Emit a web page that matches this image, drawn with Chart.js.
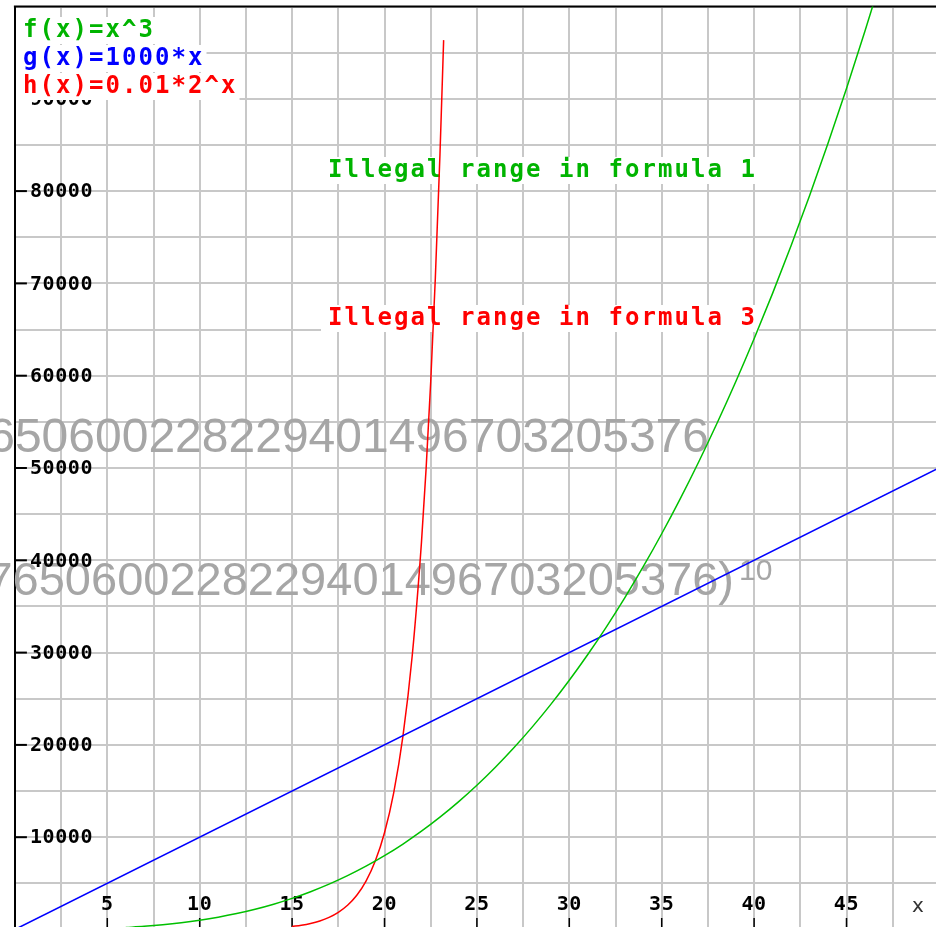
<!DOCTYPE html>
<html>
<head>
<meta charset="utf-8" />
<title>functions</title>
<script src="https://cdn.jsdelivr.net/npm/chart.js"></script>
<style>
  html, body { margin: 0; padding: 0; overflow: hidden; background: #fff; }
  #wrap { width: 936px; height: 927px; overflow: hidden; position: relative; }
  #plot { position: absolute; left: 0; top: 0; }
</style>
</head>
<body>
<div id="wrap"><canvas id="plot" width="950" height="940" style="width:950px;height:940px"></canvas></div>
<script>
// f(x) = x^3
const cubeX = [6, 7, 8, 9, 10, 11, 12, 13, 14, 15, 16, 17, 18, 19, 20, 21, 22, 23, 24, 25, 26,
  27, 28, 29, 30, 31, 32, 33, 34, 35, 36, 37, 38, 39, 40, 41, 42, 43, 44, 45, 46, 47];
const cubeY = [216, 343, 512, 729, 1000, 1331, 1728, 2197, 2744, 3375, 4096, 4913, 5832, 6859,
  8000, 9261, 10648, 12167, 13824, 15625, 17576, 19683, 21952, 24389, 27000, 29791, 32768,
  35937, 39304, 42875, 46656, 50653, 54872, 59319, 64000, 68921, 74088, 79507, 85184, 91125,
  97336, 103823];
// g(x) = 1000*x, blue line
const linX = [0, 50];
const linY = [0, 50000];
// h(x) = 0.01*2^x, red curve (stops near x = 23.2)
const expX = [15, 15.5, 16, 16.5, 17, 17.5, 18, 18.5, 19, 19.5, 20, 20.5, 21, 21.5, 22, 22.25,
  22.5, 22.75, 23, 23.2];
const expY = [328, 463, 655, 927, 1311, 1854, 2621, 3707, 5243, 7415, 10486, 14830, 20972,
  29660, 41943, 49880, 59317, 70543, 83886, 96359];

const xTicks = [5, 10, 15, 20, 25, 30, 35, 40, 45];
const yTicks = [10000, 20000, 30000, 40000, 50000, 60000, 70000, 80000, 90000];
const legendText = ['f(x)=x^3', 'g(x)=1000*x', 'h(x)=0.01*2^x'];
const legendColor = ['#00b400', '#0000ff', '#ff0000'];
const notes = ['Illegal range in formula 1', 'Illegal range in formula 3'];
const bigNumber = '7650600228229401496703205376';

function pts(xs, ys) {
  return xs.map((x, i) => ({ x: x, y: ys[i] }));
}

const MONO = 'bold 24px "DejaVu Sans Mono"';
const CHAR_W = 16.5;

function boxText(ctx, txt, x, base, color) {
  ctx.fillStyle = '#fff';
  ctx.fillRect(x - 7, base - 20, txt.length * CHAR_W + 9, 27);
  ctx.font = MONO;
  ctx.letterSpacing = (CHAR_W - 14.45) + 'px';
  ctx.textAlign = 'left';
  ctx.textBaseline = 'alphabetic';
  ctx.fillStyle = color;
  ctx.fillText(txt, x, base);
  ctx.letterSpacing = '0px';
}

const decor = {
  id: 'decor',
  beforeDatasetsDraw(chart) {
    const ctx = chart.ctx;
    const xs = chart.scales.x;
    const ys = chart.scales.y;
    const a = chart.chartArea;
    ctx.save();

    // the big grey overflowing numbers
    ctx.fillStyle = '#a6a6a6';
    ctx.textAlign = 'right';
    ctx.textBaseline = 'alphabetic';
    ctx.font = '48px "Liberation Sans"';
    ctx.fillText(bigNumber, 709, 452);
    ctx.font = '47px "Liberation Sans"';
    ctx.fillText(bigNumber + ')', 734, 595);
    ctx.font = '30px "Liberation Sans"';
    ctx.textAlign = 'left';
    ctx.fillText('10', 739, 580);

    // top frame line
    ctx.fillStyle = '#000';
    ctx.fillRect(a.left - 1, a.top - 1, a.right - a.left + 2, 2);

    // y tick labels inside the plot
    ctx.font = 'bold 20px "DejaVu Sans Mono"';
    ctx.letterSpacing = '0.6px';
    ctx.textBaseline = 'middle';
    ctx.textAlign = 'left';
    yTicks.forEach(v => {
      const py = ys.getPixelForValue(v);
      ctx.fillRect(a.left, py - 1, 12, 2);
      ctx.fillText(String(v), a.left + 15, py + 1);
    });

    // x tick labels and marks
    ctx.textAlign = 'center';
    xTicks.forEach(v => {
      const px = xs.getPixelForValue(v);
      ctx.fillText(String(v), px, 905);
      ctx.fillRect(px - 0.75, 918, 1.5, a.bottom - 918);
    });
    ctx.letterSpacing = '0px';
    ctx.font = '20px "DejaVu Sans"';
    ctx.fillStyle = '#333';
    ctx.fillText('x', 918, 907);

    // legend and notes on white boxes
    legendText.forEach((t, i) => boxText(ctx, t, 23, 37 + i * 28, legendColor[i]));
    boxText(ctx, notes[0], 328, 177, '#00b400');
    boxText(ctx, notes[1], 328, 325, '#ff0000');

    ctx.restore();
  }
};

const gridStyle = { color: '#c8c8c8', lineWidth: 2, drawTicks: false };

new Chart(document.getElementById('plot'), {
  type: 'line',
  data: {
    datasets: [
      { label: legendText[0], data: pts(cubeX, cubeY), borderColor: '#00c000', borderWidth: 1.5,
        pointRadius: 0, cubicInterpolationMode: 'monotone' },
      { label: legendText[1], data: pts(linX, linY), borderColor: '#0000ff', borderWidth: 1.5,
        pointRadius: 0 },
      { label: legendText[2], data: pts(expX, expY), borderColor: '#ff0000', borderWidth: 1.5,
        pointRadius: 0, cubicInterpolationMode: 'monotone' }
    ]
  },
  options: {
    responsive: false,
    animation: false,
    layout: { padding: { left: 14.9, top: 6.5, right: 11.1, bottom: 10.5 } },
    plugins: { legend: { display: false }, tooltip: { enabled: false } },
    scales: {
      x: {
        type: 'linear', min: 0, max: 50,
        ticks: { display: false, stepSize: 2.5 },
        grid: gridStyle,
        border: { display: false },
        afterFit: s => { s.height = 0; }
      },
      y: {
        type: 'linear', min: 0, max: 100000,
        ticks: { display: false, stepSize: 5000 },
        grid: gridStyle,
        border: { color: '#000', width: 2 },
        afterFit: s => { s.width = 0; }
      }
    }
  },
  plugins: [decor]
});
</script>
</body>
</html>
